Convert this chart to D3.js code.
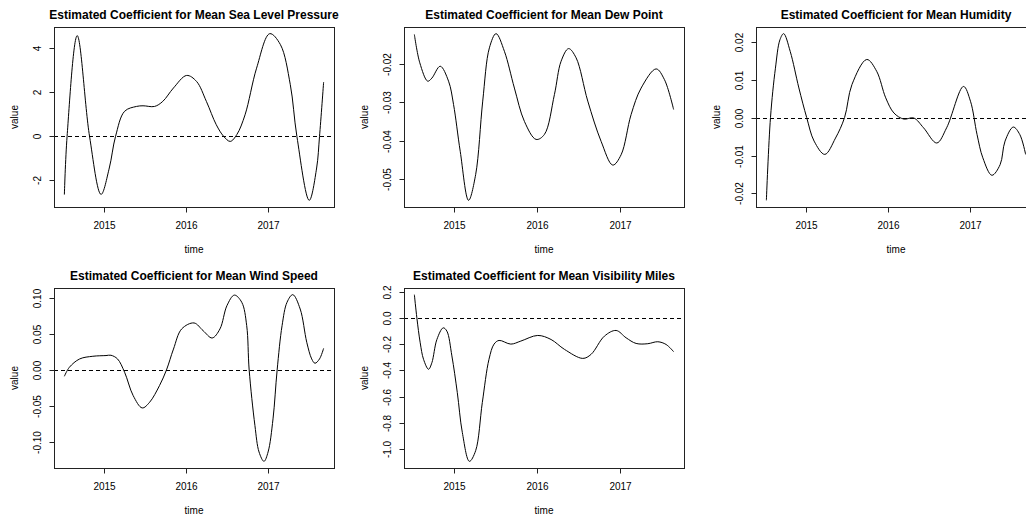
<!DOCTYPE html>
<html lang="en">
<head>
<meta charset="UTF-8">
<title>Estimated Coefficients</title>
<style>
  body { margin: 0; background: #fff; }
  svg { display: block; font-family: "Liberation Sans", Arial, sans-serif; }
  .title { font-size: 12px; font-weight: bold; text-anchor: middle; fill: #000; }
  .tick-label { font-size: 10px; fill: #000; text-anchor: middle; }
  .axis-label { font-size: 10px; fill: #000; text-anchor: middle; }
</style>
</head>
<body>
<svg width="1026" height="519"></svg>
<script src="https://cdn.jsdelivr.net/npm/d3@7"></script>
<script>
// values, time in decimal years
var titles = [
  "Estimated Coefficient for Mean Sea Level Pressure",
  "Estimated Coefficient for Mean Dew Point",
  "Estimated Coefficient for Mean Humidity",
  "Estimated Coefficient for Mean Wind Speed",
  "Estimated Coefficient for Mean Visibility Miles"
];

var xTicks = [2015, 2016, 2017];

var pressureTime  = [2014.524, 2014.557, 2014.68, 2014.83, 2014.97, 2015.07, 2015.146, 2015.256, 2015.40, 2015.48, 2015.62, 2015.72, 2015.85, 2016.01, 2016.13, 2016.25, 2016.37, 2016.46, 2016.54, 2016.62, 2016.72, 2016.86, 2017.02, 2017.15, 2017.27, 2017.35, 2017.50, 2017.59, 2017.625, 2017.675];
var pressureValue = [-2.65, 0, 4.58, 0, -2.64, -1.44, 0, 1.14, 1.36, 1.39, 1.36, 1.59, 2.2, 2.77, 2.5, 1.59, 0.53, 0, -0.23, 0.08, 0.98, 3.1, 4.67, 4.17, 2.35, 0, -2.91, -1.44, 0, 2.47];
var pressureTicks = [-2, 0, 2, 4];

var dewTime  = [2014.53, 2014.595, 2014.69, 2014.74, 2014.84, 2014.94, 2015.0, 2015.08, 2015.18, 2015.265, 2015.35, 2015.43, 2015.51, 2015.61, 2015.73, 2015.85, 2015.99, 2016.09, 2016.21, 2016.29, 2016.38, 2016.47, 2016.61, 2016.77, 2016.91, 2017.01, 2017.13, 2017.25, 2017.43, 2017.53, 2017.64];
var dewValue = [-0.0123, -0.0197, -0.0245, -0.0237, -0.0206, -0.0245, -0.0306, -0.0428, -0.0556, -0.0489, -0.0297, -0.0158, -0.0121, -0.0167, -0.0263, -0.035, -0.0397, -0.0384, -0.028, -0.0193, -0.016, -0.0184, -0.0297, -0.0402, -0.0464, -0.0437, -0.0332, -0.0263, -0.0213, -0.0241, -0.0319];
var dewTicks = [-0.05, -0.04, -0.03, -0.02];

var humidityTime  = [2014.52, 2014.57, 2014.63, 2014.685, 2014.73, 2014.81, 2014.915, 2015.01, 2015.1, 2015.23, 2015.36, 2015.47, 2015.56, 2015.74, 2015.86, 2015.97, 2016.07, 2016.19, 2016.31, 2016.43, 2016.59, 2016.71, 2016.915, 2017.0, 2017.08, 2017.15, 2017.26, 2017.36, 2017.42, 2017.52, 2017.6, 2017.67];
var humidityValue = [-0.0218, 0, 0.013, 0.0205, 0.0221, 0.0174, 0.0078, 0, -0.0062, -0.0097, -0.0054, 0, 0.0087, 0.0153, 0.0122, 0.0052, 0.0012, -0.0004, -0.0001, -0.0027, -0.0067, -0.0027, 0.0082, 0.0043, -0.0045, -0.0106, -0.0152, -0.0124, -0.0062, -0.0025, -0.0045, -0.0097];
var humidityTicks = [-0.02, -0.01, 0.00, 0.01, 0.02];

var windTime  = [2014.524, 2014.585, 2014.71, 2014.87, 2015.03, 2015.09, 2015.17, 2015.256, 2015.36, 2015.47, 2015.56, 2015.68, 2015.765, 2015.85, 2015.95, 2016.10, 2016.21, 2016.32, 2016.415, 2016.50, 2016.59, 2016.68, 2016.74, 2016.77, 2016.84, 2016.89, 2016.95, 2017.0, 2017.06, 2017.11, 2017.17, 2017.23, 2017.30, 2017.39, 2017.47, 2017.53, 2017.57, 2017.625, 2017.675];
var windValue = [-0.0088, 0.0037, 0.0153, 0.019, 0.02, 0.0204, 0.0153, -0.0032, -0.0356, -0.0528, -0.0449, -0.0218, 0, 0.029, 0.057, 0.0653, 0.0546, 0.0444, 0.057, 0.0894, 0.104, 0.094, 0.0616, 0, -0.0773, -0.114, -0.127, -0.114, -0.068, 0, 0.0616, 0.094, 0.1046, 0.0847, 0.0384, 0.0153, 0.0093, 0.0153, 0.030];
var windTicks = [-0.10, -0.05, 0.00, 0.05, 0.10];

var visibilityTime  = [2014.53, 2014.56, 2014.60, 2014.64, 2014.70, 2014.74, 2014.80, 2014.876, 2014.92, 2014.98, 2015.045, 2015.105, 2015.19, 2015.265, 2015.345, 2015.425, 2015.486, 2015.546, 2015.687, 2015.807, 2016.01, 2016.17, 2016.33, 2016.55, 2016.65, 2016.81, 2016.95, 2017.07, 2017.19, 2017.33, 2017.45, 2017.55, 2017.64];
var visibilityValue = [0.177, 0, -0.19, -0.316, -0.392, -0.342, -0.165, -0.076, -0.101, -0.29, -0.57, -0.873, -1.094, -1.013, -0.646, -0.316, -0.2, -0.172, -0.2, -0.177, -0.134, -0.165, -0.24, -0.309, -0.278, -0.139, -0.096, -0.152, -0.195, -0.197, -0.182, -0.203, -0.258];
var visibilityTicks = [-1.0, -0.8, -0.6, -0.4, -0.2, 0.0, 0.2];

// R prints a plain hyphen for negatives
function rFormat(spec) {
  var f = d3.format(spec);
  return function(v) { return f(v).replace("\u2212", "-"); };
}

var panels = [
  { title: titles[0], t: pressureTime, v: pressureValue, ticks: pressureTicks, fmt: rFormat("d"), col: 0, row: 0 },
  { title: titles[1], t: dewTime, v: dewValue, ticks: dewTicks, fmt: rFormat(".2f"), col: 1, row: 0 },
  { title: titles[2], t: humidityTime, v: humidityValue, ticks: humidityTicks, fmt: rFormat(".2f"), col: 2, row: 0 },
  { title: titles[3], t: windTime, v: windValue, ticks: windTicks, fmt: rFormat(".2f"), col: 0, row: 1 },
  { title: titles[4], t: visibilityTime, v: visibilityValue, ticks: visibilityTicks, fmt: rFormat(".1f"), col: 1, row: 1 }
];

var svg = d3.select("svg");

// plot box layout (R mfrow 2x3 look)
var colLeft = [54, 404, 756],
    rowTop = [27, 288],
    boxW = 280,
    boxH = 180;

// R style axis range: data range widened by 4% each side
function rPad(ext) {
  var d = (ext[1] - ext[0]) * 0.04;
  return [ext[0] - d, ext[1] + d];
}

panels.forEach(function(p) {
  var left = colLeft[p.col], top = rowTop[p.row];
  var x = d3.scaleLinear().domain(rPad(d3.extent(p.t))).range([left, left + boxW]);
  var y = d3.scaleLinear().domain(rPad(d3.extent(p.v))).range([top + boxH, top]);
  var pts = p.t.map(function(t, i) { return [t, p.v[i]]; });

  var g = svg.append("g");

  // title
  g.append("text")
    .attr("class", "title")
    .attr("x", left + boxW / 2)
    .attr("y", top - 8)
    .text(p.title);

  // zero line
  g.append("line")
    .attr("x1", left).attr("x2", left + boxW)
    .attr("y1", Math.round(y(0)) + 0.5).attr("y2", Math.round(y(0)) + 0.5)
    .attr("stroke", "#000")
    .attr("stroke-dasharray", "4,3");

  // the curve
  var line = d3.line()
    .x(function(d) { return x(d[0]); })
    .y(function(d) { return y(d[1]); })
    .curve(d3.curveCatmullRom.alpha(0.5));

  g.append("path")
    .datum(pts)
    .attr("d", line)
    .attr("fill", "none")
    .attr("stroke", "#000")
    .attr("stroke-width", 1);

  // box
  g.append("rect")
    .attr("x", left + 0.5).attr("y", top + 0.5)
    .attr("width", boxW).attr("height", boxH)
    .attr("fill", "none")
    .attr("stroke", "#222");

  // x axis ticks
  var bottom = top + boxH + 0.5;
  xTicks.forEach(function(t) {
    var xp = Math.round(x(t)) + 0.5;
    g.append("line")
      .attr("x1", xp).attr("x2", xp)
      .attr("y1", bottom).attr("y2", bottom + 5)
      .attr("stroke", "#222");
    g.append("text")
      .attr("class", "tick-label")
      .attr("x", xp)
      .attr("y", bottom + 21)
      .text(t);
  });

  // y axis ticks (labels parallel to axis)
  p.ticks.forEach(function(v) {
    var yp = Math.round(y(v)) + 0.5;
    g.append("line")
      .attr("x1", left + 0.5).attr("x2", left - 4.5)
      .attr("y1", yp).attr("y2", yp)
      .attr("stroke", "#222");
    g.append("text")
      .attr("class", "tick-label")
      .attr("transform", "translate(" + (left - 13) + "," + yp + ") rotate(-90)")
      .text(p.fmt(v));
  });

  // axis labels
  g.append("text")
    .attr("class", "axis-label")
    .attr("x", left + boxW / 2)
    .attr("y", bottom + 45)
    .text("time");

  g.append("text")
    .attr("class", "axis-label")
    .attr("transform", "translate(" + (left - 36) + "," + (top + boxH / 2) + ") rotate(-90)")
    .text("value");
});
</script>
</body>
</html>
